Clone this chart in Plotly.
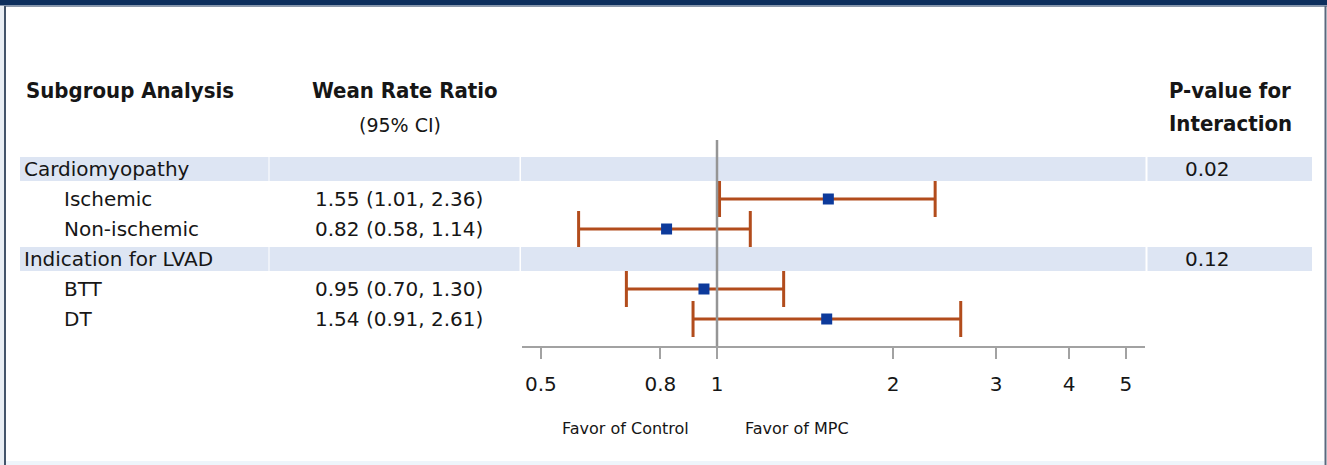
import plotly.graph_objects as go

# ---- data -------------------------------------------------------------
groups = ["Cardiomyopathy", "Indication for LVAD"]
group_pvalues = ["0.02", "0.12"]
subgroups = [["Ischemic", "Non-ischemic"], ["BTT", "DT"]]
ratio = [1.55, 0.82, 0.95, 1.54]
ci_low = [1.01, 0.58, 0.70, 0.91]
ci_high = [2.36, 1.14, 1.30, 2.61]
tick_values = [0.5, 0.8, 1, 2, 3, 4, 5]
tick_labels = ["0.5", "0.8", "1", "2", "3", "4", "5"]

# ---- canvas / style ---------------------------------------------------
W, H = 1327, 465
FONT = "DejaVu Sans"
HEAD_FONT = "DejaVu Sans Condensed"
TXT = "#161616"
BAND = "#dde5f3"
CI_COLOR = "#b24c1c"
MARK_COLOR = "#0d3a9b"
AXIS_GRAY = "#a2a2a2"


def px(xp):
    return xp / W


def py(yp):
    return 1 - yp / H


# row layout: group header rows followed by their subgroup rows
row_y = []       # y index of every row
row_kind = []    # "group" or "sub"
row_label = []
sub_rows = []
group_rows = []
r = 0
for g, subs in zip(groups, subgroups):
    row_y.append(r); row_kind.append("group"); row_label.append(g); group_rows.append(r)
    r += 1
    for s in subs:
        row_y.append(r); row_kind.append("sub"); row_label.append(s); sub_rows.append(r)
        r += 1

ROW0_PX, ROW_PX = 169, 30          # pixel centre of first row, row pitch
AXIS_PX = 346                      # pixel y of the x-axis line
y_top = -ROW0_PX / ROW_PX
y_bot = (AXIS_PX - ROW0_PX) / ROW_PX

fig = go.Figure()

# confidence intervals with point estimates
fig.add_trace(go.Scatter(
    x=ratio, y=sub_rows, mode="markers",
    marker=dict(symbol="square", size=11, color=MARK_COLOR),
    error_x=dict(type="data", symmetric=False,
                 array=[h - m for h, m in zip(ci_high, ratio)],
                 arrayminus=[m - l for m, l in zip(ratio, ci_low)],
                 color=CI_COLOR, thickness=3, width=18),
    showlegend=False, hoverinfo="skip", cliponaxis=False,
))

# line of no effect
fig.add_trace(go.Scatter(
    x=[1, 1], y=[(140 - ROW0_PX) / ROW_PX, y_bot], mode="lines",
    line=dict(color="#959595", width=2.5),
    showlegend=False, hoverinfo="skip", cliponaxis=False,
))

shapes = []
# shaded group header bands, split into columns
col_edges = [(20, 268.5), (269.5, 519.5), (521, 1145.5), (1147.5, 1312)]
for gy in group_rows:
    for x0, x1 in col_edges:
        shapes.append(dict(type="rect", xref="paper", yref="y",
                           x0=px(x0), x1=px(x1), y0=gy - 0.4, y1=gy + 0.4,
                           fillcolor=BAND, line=dict(width=0), layer="below"))

# frame around the panel
shapes += [
    dict(type="rect", xref="paper", yref="paper", x0=0, x1=1, y0=py(5.5), y1=1,
         fillcolor="#0d2f5d", line=dict(width=0)),
    dict(type="line", xref="paper", yref="paper", x0=0, x1=1, y0=py(6.5), y1=py(6.5),
         line=dict(color="#8d99aa", width=1)),
    dict(type="rect", xref="paper", yref="paper", x0=0, x1=px(4), y0=0, y1=py(6),
         fillcolor="#e9eef4", line=dict(width=0)),
    dict(type="line", xref="paper", yref="paper", x0=px(5), x1=px(5), y0=0, y1=py(6),
         line=dict(color="#44546a", width=2)),
    dict(type="line", xref="paper", yref="paper", x0=px(1325.5), x1=px(1325.5), y0=0, y1=py(6),
         line=dict(color="#5a697e", width=2)),
    dict(type="rect", xref="paper", yref="paper", x0=px(6), x1=px(1324), y0=0, y1=py(461),
         fillcolor="#eef5fb", line=dict(width=0)),
]

ann = []


def text(x, y, s, size=20, bold=False, xanchor="left", yref="paper", family=FONT):
    ann.append(dict(x=x, y=y, xref="paper", yref=yref, text=f"<b>{s}</b>" if bold else s,
                    showarrow=False, xanchor=xanchor, yanchor="middle",
                    font=dict(family=family, size=size, color=TXT)))


# column headers
text(px(24), py(91), "Subgroup Analysis", size=22, bold=True, family=HEAD_FONT)
text(px(310), py(91), "Wean Rate Ratio", size=22, bold=True, family=HEAD_FONT)
text(px(400), py(125), "(95% CI)", size=19, xanchor="center")
text(px(1167), py(91), "P-value for", size=22, bold=True, family=HEAD_FONT)
text(px(1167), py(124), "Interaction", size=22, bold=True, family=HEAD_FONT)

# row labels
for yy, kind, lab in zip(row_y, row_kind, row_label):
    text(px(22) if kind == "group" else px(62), yy, lab, yref="y")

# ratio (CI) text
for yy, m, lo, hi in zip(sub_rows, ratio, ci_low, ci_high):
    text(px(313), yy, f"{m:.2f} ({lo:.2f}, {hi:.2f})", yref="y")

# interaction p-values
for yy, p in zip(group_rows, group_pvalues):
    text(px(1183), yy, p, yref="y")

# direction labels
text(px(625), py(428), "Favor of Control", size=16, xanchor="center")
text(px(797), py(428), "Favor of MPC", size=16, xanchor="center")

# log axis mapping: 1 -> x=717px, one decade = 585px
AX_L, AX_R, X1_PX, DEC_PX = 522, 1145, 717, 585
fig.update_layout(
    width=W, height=H,
    margin=dict(l=0, r=0, t=0, b=0),
    paper_bgcolor="white", plot_bgcolor="rgba(0,0,0,0)",
    shapes=shapes, annotations=ann,
    xaxis=dict(type="log", domain=[px(AX_L), px(AX_R)],
               range=[(AX_L - X1_PX) / DEC_PX, (AX_R - X1_PX) / DEC_PX],
               tickvals=tick_values, ticktext=tick_labels,
               showline=True, linecolor=AXIS_GRAY, linewidth=2,
               ticks="outside", ticklen=11, tickwidth=1.5, tickcolor=AXIS_GRAY,
               ticklabelstandoff=8,
               tickfont=dict(family=FONT, size=20, color=TXT),
               showgrid=False, zeroline=False, fixedrange=True),
    yaxis=dict(domain=[py(AXIS_PX), 1], range=[y_bot, y_top],
               visible=False, fixedrange=True),
    showlegend=False,
)

fig.write_html("out.html")
